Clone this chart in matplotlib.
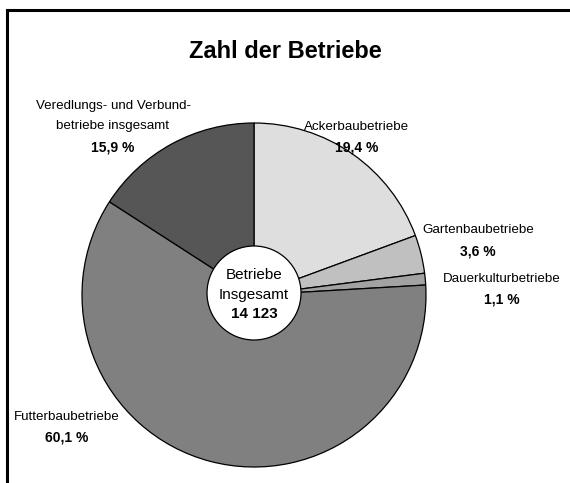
import matplotlib.pyplot as plt
from matplotlib.patches import Circle
from matplotlib.lines import Line2D

# Daten
kategorien = ['Ackerbaubetriebe', 'Gartenbaubetriebe', 'Dauerkulturbetriebe',
              'Futterbaubetriebe', 'Veredlungs- und Verbund-\nbetriebe insgesamt']
anteile = [19.4, 3.6, 1.1, 60.1, 15.9]
farben = ['#dedede', '#c0c0c0', '#a2a2a2', '#808080', '#565656']
gesamt = '14 123'

plt.rcParams['font.family'] = ['Liberation Sans', 'DejaVu Sans']

W, H = 570, 483
fig = plt.figure(figsize=(W / 100, H / 100), dpi=100)
ax = fig.add_axes([0, 0, 1, 1])
ax.set_xlim(0, W)
ax.set_ylim(0, H)
ax.axis('off')

def py(y):
    # Pixel-y (von oben) in Achsen-y
    return H - y

cx, cy, r = 254, 295, 172
ax.pie(anteile, colors=farben, startangle=90, counterclock=False,
       center=(cx, py(cy)), radius=r,
       wedgeprops=dict(edgecolor='black', linewidth=0.9))
ax.set_xlim(0, W)
ax.set_ylim(0, H)
ax.set_aspect('equal')

ax.add_patch(Circle((cx, py(293)), 47, facecolor='white', edgecolor='black', linewidth=0.9, zorder=5))
ax.text(cx, py(275), 'Betriebe', ha='center', va='center', fontsize=11, zorder=6)
ax.text(cx, py(295), 'Insgesamt', ha='center', va='center', fontsize=11, zorder=6)
ax.text(cx, py(314), gesamt, ha='center', va='center', fontsize=11, fontweight='bold', zorder=6)

ax.text(285, py(51), 'Zahl der Betriebe', ha='center', va='center', fontsize=17, fontweight='bold')

# Beschriftungen: (x, y Name, y Prozent)
pos = [(357, 127, 148), (478, 230, 251), (502, 279, 299), (67, 417, 437), (113, 116, 148)]
for name, wert, (x, yn, yp) in zip(kategorien, anteile, pos):
    ax.text(x, py(yn), name, ha='center', va='center', fontsize=9.6, linespacing=1.9)
    ax.text(x, py(yp), f'{wert:.1f} %'.replace('.', ','), ha='center', va='center',
            fontsize=10, fontweight='bold')

# Rahmen (oben und links)
fig.add_artist(Line2D([7 / W, 1], [1 - 10 / H, 1 - 10 / H], color='black', linewidth=2.2,
                      transform=fig.transFigure))
fig.add_artist(Line2D([7 / W, 7 / W], [0, 1 - 10 / H], color='black', linewidth=2.2,
                      transform=fig.transFigure))

fig.savefig('out.png', dpi=100)
